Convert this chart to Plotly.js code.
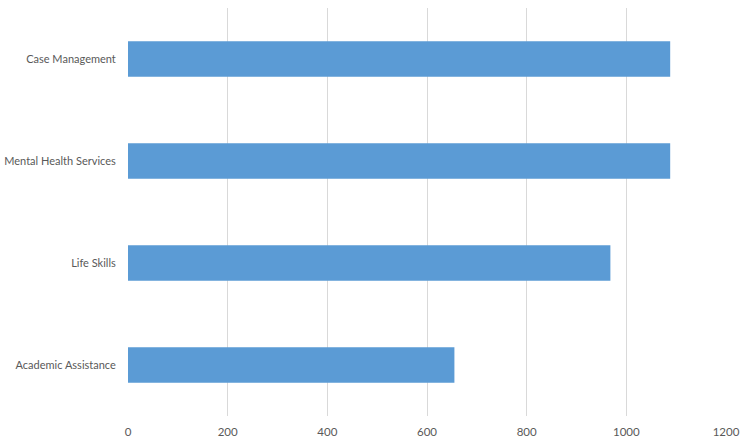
<!DOCTYPE html>
<html>
<head>
<meta charset="utf-8">
<script src="https://cdn.plot.ly/plotly-3.0.1.min.js"></script>
<style>html,body{margin:0;padding:0;background:#fff;}#chart{width:745px;height:446px;}</style>
</head>
<body>
<div id="chart"></div>
<script>
const categories = ["Academic Assistance", "Life Skills", "Mental Health Services", "Case Management"];
const values = [655, 968, 1088, 1088];
const xTicks = [0, 200, 400, 600, 800, 1000, 1200];

const trace = {
  type: 'bar',
  orientation: 'h',
  y: categories,
  x: values,
  marker: {color: '#5B9BD5'},
  hoverinfo: 'x+y'
};

const layout = {
  width: 745,
  height: 446,
  margin: {l: 128, r: 19, t: 8, b: 30},
  paper_bgcolor: '#ffffff',
  plot_bgcolor: '#ffffff',
  bargap: 0.65,
  showlegend: false,
  font: {family: 'Lato, "Open Sans", sans-serif', size: 11, color: '#595959'},
  xaxis: {
    range: [0, 1200],
    tickvals: xTicks,
    ticktext: xTicks.map(String),
    showgrid: true,
    gridcolor: '#d9d9d9',
    gridwidth: 1,
    zeroline: false,
    showline: false,
    ticks: 'outside',
    ticklen: 5,
    tickcolor: 'rgba(0,0,0,0)',
    tickfont: {size: 11.5, color: '#595959'}
  },
  yaxis: {
    categoryorder: 'array',
    categoryarray: categories,
    showgrid: false,
    zeroline: false,
    showline: false,
    ticks: 'outside',
    ticklen: 9,
    tickcolor: 'rgba(0,0,0,0)',
    tickfont: {size: 11, color: '#595959'}
  }
};

Plotly.newPlot('chart', [trace], layout, {displayModeBar: false, staticPlot: true});
</script>
</body>
</html>
